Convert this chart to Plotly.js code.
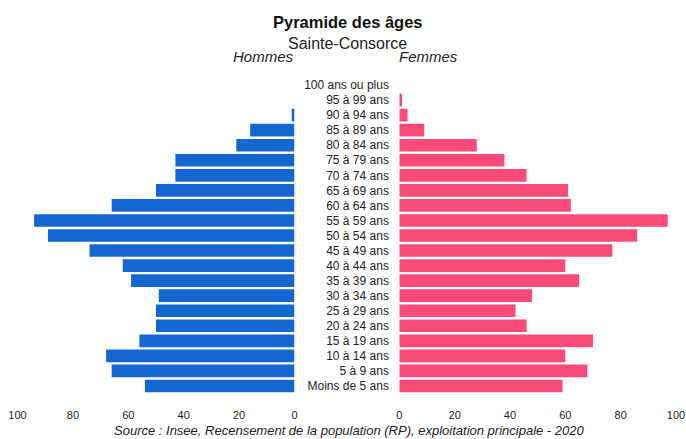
<!DOCTYPE html>
<html>
<head>
<meta charset="utf-8">
<script src="https://cdn.plot.ly/plotly-3.0.1.min.js"></script>
<style>html,body{margin:0;padding:0;background:#fff;}#chart{width:686px;height:439px;}</style>
</head>
<body>
<div id="chart"></div>
<script>
var categories = ["Moins de 5 ans","5 à 9 ans","10 à 14 ans","15 à 19 ans","20 à 24 ans","25 à 29 ans","30 à 34 ans","35 à 39 ans","40 à 44 ans","45 à 49 ans","50 à 54 ans","55 à 59 ans","60 à 64 ans","65 à 69 ans","70 à 74 ans","75 à 79 ans","80 à 84 ans","85 à 89 ans","90 à 94 ans","95 à 99 ans","100 ans ou plus"];
var hommes = [54,66,68,56,50,50,49,59,62,74,89,94,66,50,43,43,21,16,1,0,0];
var femmes = [59,68,60,70,46,42,48,65,60,77,86,97,62,61,46,38,28,9,3,1,0];
var tickVals = [0,20,40,60,80,100];
var tickText = ["0","20","40","60","80","100"];

var W = 686, H = 439;
var yTop = 77.5, yBot = 393.5;
var font = "Liberation Sans, Arial, sans-serif";

var data = [
  {type:"bar", orientation:"h", y:categories, x:hommes, xaxis:"x", yaxis:"y",
   marker:{color:"#1466d0"}, hoverinfo:"x+y", showlegend:false},
  {type:"bar", orientation:"h", y:categories, x:femmes, xaxis:"x2", yaxis:"y2",
   marker:{color:"#f94a78"}, hoverinfo:"x+y", showlegend:false}
];

var layout = {
  width: W, height: H,
  margin:{l:0,r:0,t:0,b:0},
  paper_bgcolor:"#fff", plot_bgcolor:"#fff",
  font:{family:font, size:11, color:"#222"},
  bargap:0.16,
  xaxis:{domain:[17.5/W, 294.5/W], range:[100,0], tickvals:tickVals, ticktext:tickText,
         showgrid:false, zeroline:false, showline:false, ticks:"outside", ticklen:11, tickcolor:"rgba(0,0,0,0)",
         anchor:"y", tickfont:{size:11, color:"#222"}},
  yaxis:{domain:[1-yBot/H, 1-yTop/H], type:"category", showticklabels:false, showgrid:false, zeroline:false, showline:false, anchor:"x"},
  xaxis2:{domain:[399.3/W, 676/W], range:[0,100], tickvals:tickVals, ticktext:tickText,
         showgrid:false, zeroline:false, showline:false, ticks:"outside", ticklen:11, tickcolor:"rgba(0,0,0,0)",
         anchor:"y2", tickfont:{size:11, color:"#222"}},
  yaxis2:{domain:[1-yBot/H, 1-yTop/H], type:"category", showticklabels:true, side:"left",
          ticks:"outside", ticklen:7, tickcolor:"rgba(0,0,0,0)",
          showgrid:false, zeroline:false, showline:false, anchor:"x2", tickfont:{size:12, color:"#222"}},
  annotations:[
    {text:"<b>Pyramide des âges</b>", x:348/W, y:1-22/H, xref:"paper", yref:"paper", showarrow:false, font:{size:16.5, color:"#111"}, xanchor:"center", yanchor:"middle"},
    {text:"Sainte-Consorce", x:347.5/W, y:1-43/H, xref:"paper", yref:"paper", showarrow:false, font:{size:16, color:"#222"}, xanchor:"center", yanchor:"middle"},
    {text:"<i>Hommes</i>", x:263.5/W, y:1-57/H, xref:"paper", yref:"paper", showarrow:false, font:{size:15, color:"#222"}, xanchor:"center", yanchor:"middle"},
    {text:"<i>Femmes</i>", x:428.5/W, y:1-57/H, xref:"paper", yref:"paper", showarrow:false, font:{size:15, color:"#222"}, xanchor:"center", yanchor:"middle"},
    {text:"<i>Source : Insee, Recensement de la population (RP), exploitation principale - 2020</i>", x:349/W, y:1-430/H, xref:"paper", yref:"paper", showarrow:false, font:{size:13, color:"#222"}, xanchor:"center", yanchor:"middle"}
  ]
};

Plotly.newPlot("chart", data, layout, {displayModeBar:false, staticPlot:true});
</script>
</body>
</html>
